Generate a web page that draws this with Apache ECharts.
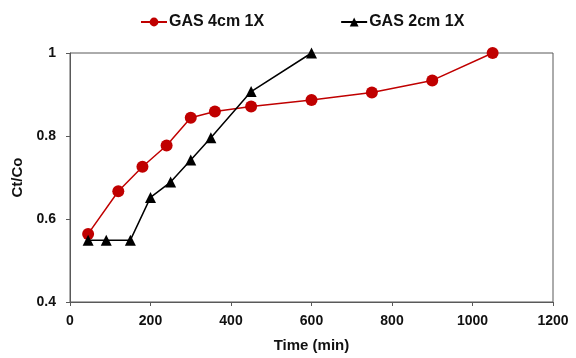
<!DOCTYPE html>
<html>
<head>
<meta charset="utf-8">
<script src="https://cdn.jsdelivr.net/npm/echarts@6/dist/echarts.min.js"></script>
<style>html,body{margin:0;padding:0;background:#fff}#c{width:576px;height:358px}</style>
</head>
<body>
<div id="c"></div>
<script>
const seriesNames = ['GAS 4cm 1X', 'GAS 2cm 1X'];
const time4cm = [45, 120, 180, 240, 300, 360, 450, 600, 750, 900, 1050];
const ct4cm = [0.564, 0.667, 0.726, 0.777, 0.844, 0.859, 0.871, 0.887, 0.905, 0.934, 1.0];
const time2cm = [45, 90, 150, 200, 250, 300, 350, 450, 600];
const ct2cm = [0.549, 0.549, 0.549, 0.652, 0.689, 0.742, 0.796, 0.907, 1.0];
const xTicks = [0, 200, 400, 600, 800, 1000, 1200];
const yTicks = [0.4, 0.6, 0.8, 1];

const font = 'Liberation Sans, Arial, sans-serif';
const axisColor = '#595959';
const textColor = '#111';
const chart = echarts.init(document.getElementById('c'));
chart.setOption({
  animation: false,
  grid: {left: 70, right: 23, top: 53, bottom: 52, show: true, borderColor: axisColor, borderWidth: 1},
  legend: {
    top: 9, left: 135, itemGap: 76, itemWidth: 26, itemHeight: 11,
    textStyle: {fontFamily: font, fontWeight: 'bold', fontSize: 16, color: textColor, padding: [0, 0, 0, -3]},
    data: seriesNames
  },
  xAxis: {
    type: 'value', min: xTicks[0], max: xTicks[xTicks.length - 1], interval: 200,
    name: 'Time (min)', nameLocation: 'middle', nameGap: 36,
    nameTextStyle: {fontFamily: font, fontWeight: 'bold', fontSize: 15, color: textColor},
    axisLine: {show: true, lineStyle: {color: axisColor}},
    axisTick: {show: true, length: 4, lineStyle: {color: axisColor}},
    axisLabel: {fontFamily: font, fontWeight: 'bold', fontSize: 14, color: textColor, margin: 12,
      formatter: v => String(v)},
    splitLine: {show: false}
  },
  yAxis: {
    type: 'value', min: yTicks[0], max: yTicks[yTicks.length - 1], interval: 0.2,
    name: 'Ct/Co', nameLocation: 'middle', nameGap: 41, nameRotate: 90,
    nameTextStyle: {fontFamily: font, fontWeight: 'bold', fontSize: 15, color: textColor},
    axisLine: {show: true, lineStyle: {color: axisColor}},
    axisTick: {show: true, length: 4, lineStyle: {color: axisColor}},
    axisLabel: {fontFamily: font, fontWeight: 'bold', fontSize: 14, color: textColor, margin: 14,
      formatter: v => String(+v.toFixed(1))},
    splitLine: {show: false}
  },
  series: [
    {
      name: seriesNames[0], type: 'line',
      data: time4cm.map((t, i) => [t, ct4cm[i]]),
      symbol: 'circle', symbolSize: 12,
      itemStyle: {color: '#C00000'},
      lineStyle: {color: '#C00000', width: 1.5}
    },
    {
      name: seriesNames[1], type: 'line',
      data: time2cm.map((t, i) => [t, ct2cm[i]]),
      symbol: 'triangle', symbolSize: 11,
      itemStyle: {color: '#000'},
      lineStyle: {color: '#000', width: 1.5}
    }
  ]
});
</script>
</body>
</html>
